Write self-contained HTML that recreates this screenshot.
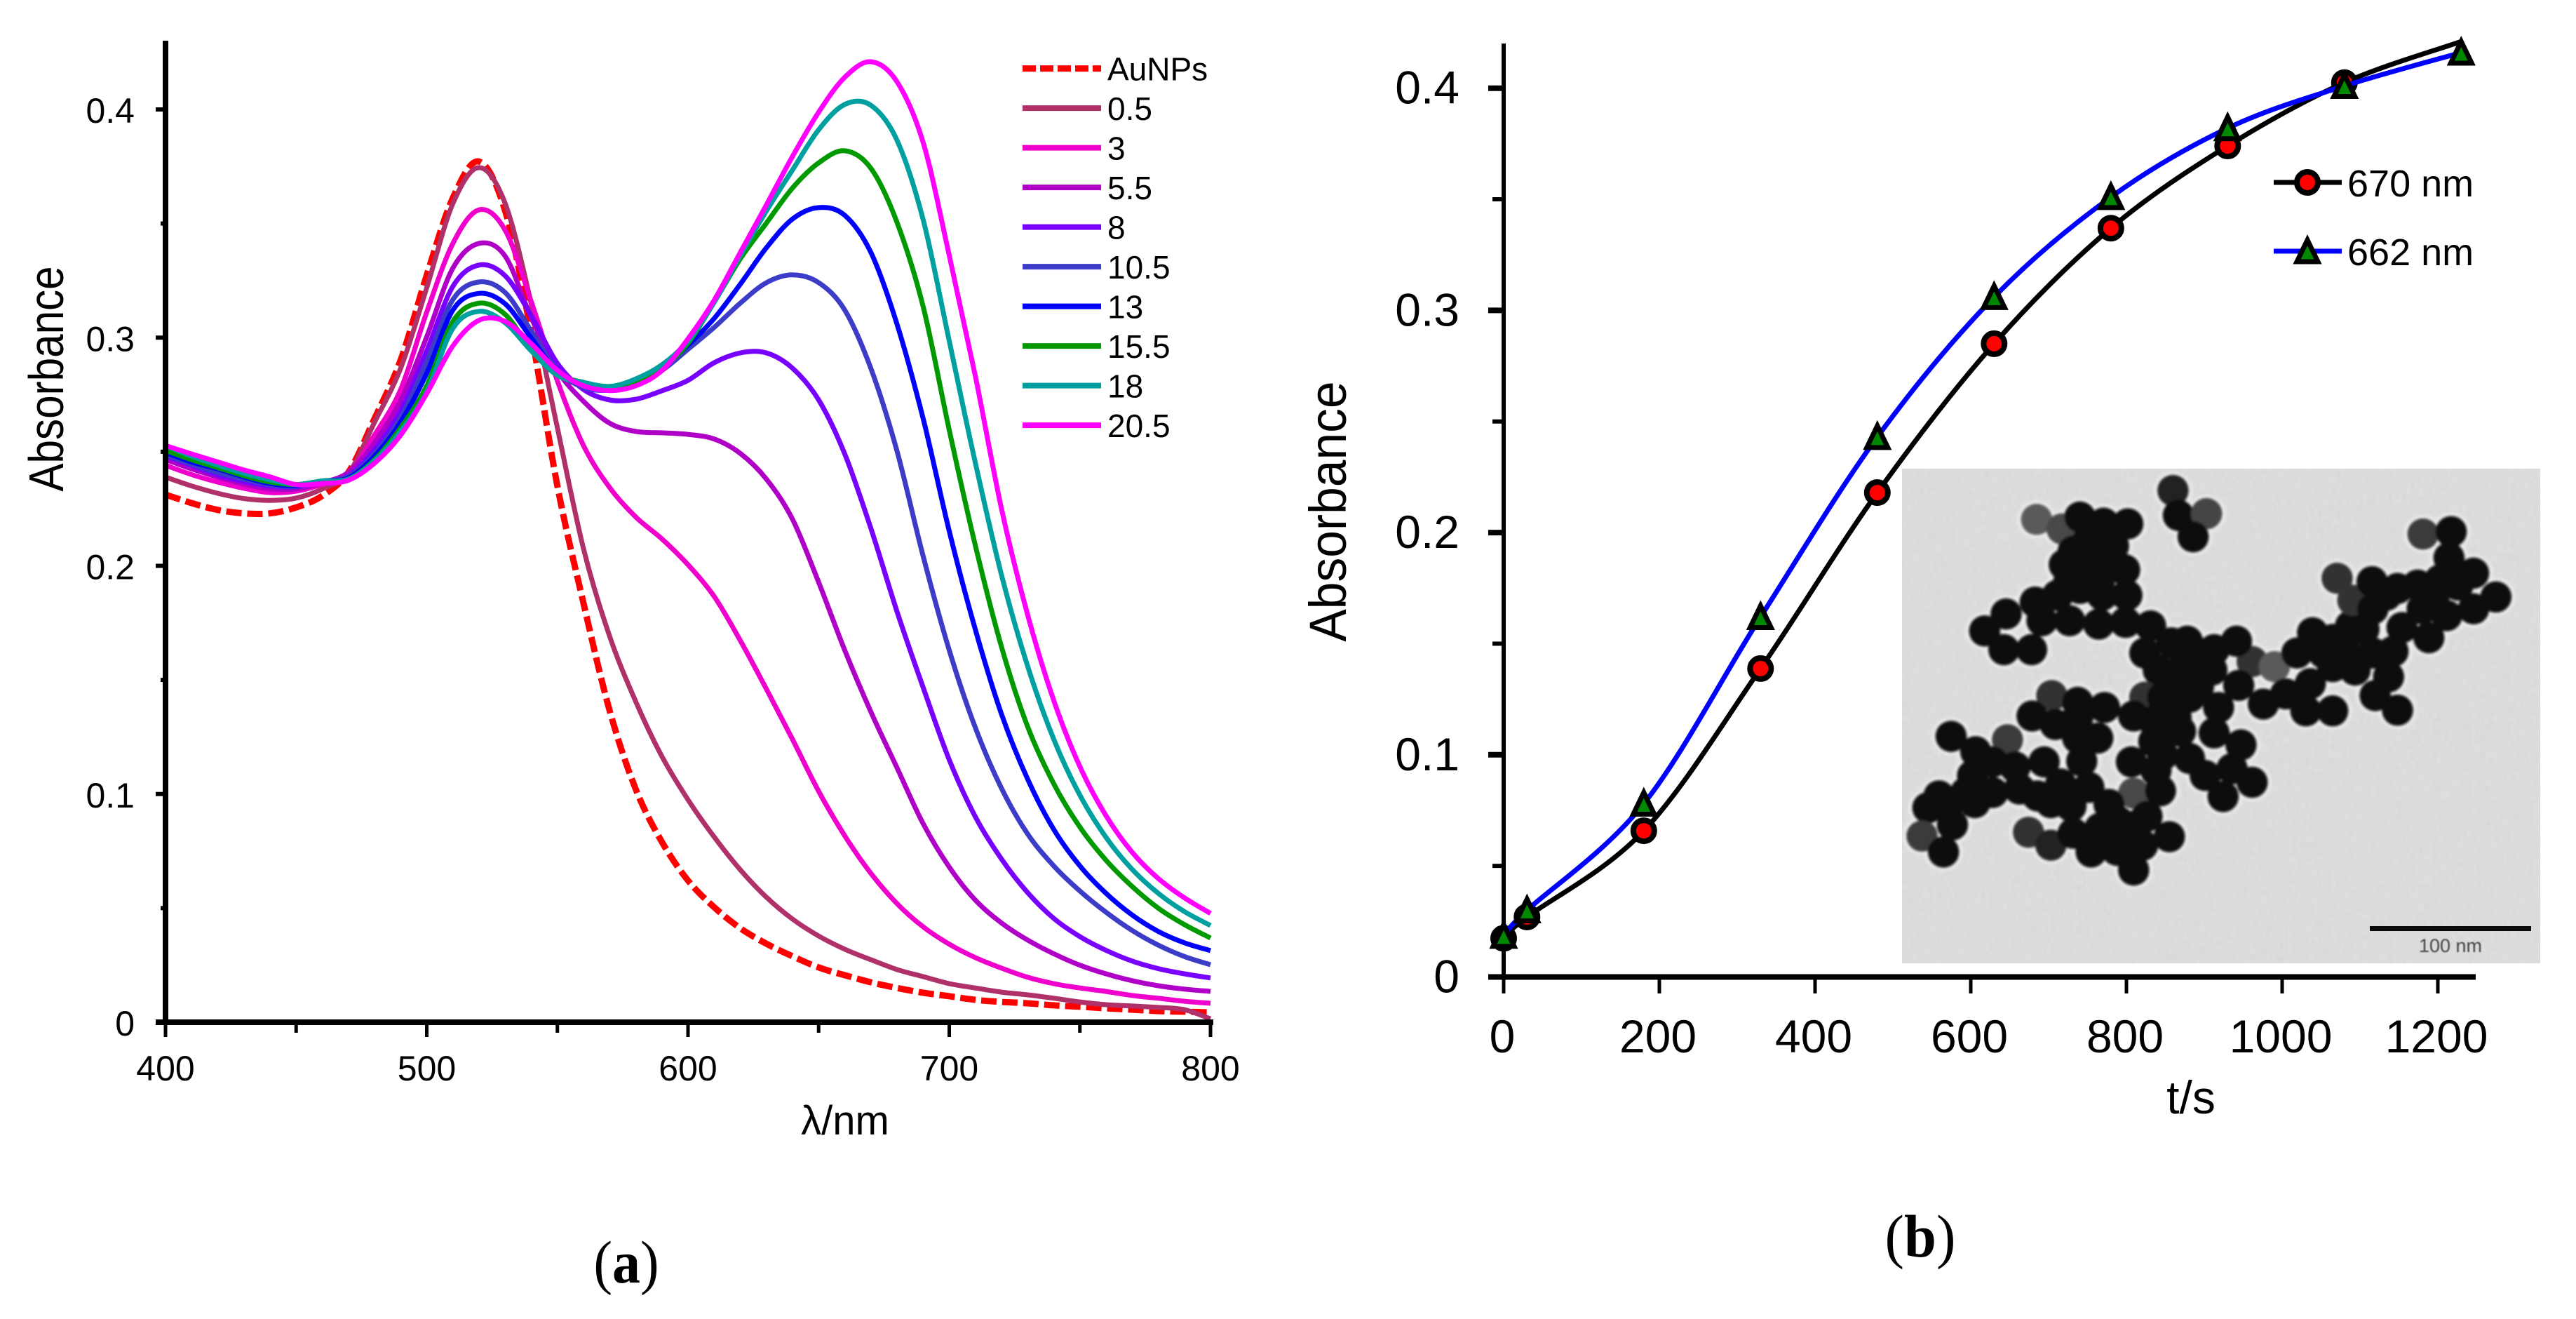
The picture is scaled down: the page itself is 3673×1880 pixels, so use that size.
<!DOCTYPE html>
<html lang="en">
<head>
<meta charset="utf-8">
<title>AuNP absorbance spectra and kinetics</title>
<style>
html,body{margin:0;padding:0;background:#fff;width:3673px;height:1880px;overflow:hidden}
svg{display:block}
text{font-family:"Liberation Sans",Arial,sans-serif;fill:#000}
.serif{font-family:"Liberation Serif","Times New Roman",serif;fill:#000}
</style>
</head>
<body>
<svg id="figure" xmlns="http://www.w3.org/2000/svg" width="3673" height="1880" viewBox="0 0 3673 1880">
  <defs>
    <filter id="tem-noise" x="0" y="0" width="100%" height="100%">
      <feTurbulence type="fractalNoise" baseFrequency="0.16 0.1" numOctaves="2" seed="7" result="n"/>
      <feColorMatrix in="n" type="matrix" values="0 0 0 0 0.5  0 0 0 0 0.5  0 0 0 0 0.5  0.2 0.2 0 0 -0.12" result="g"/>
      <feMerge><feMergeNode in="SourceGraphic"/><feMergeNode in="g"/></feMerge>
    </filter>
    <filter id="soft" x="-5%" y="-5%" width="110%" height="110%"><feGaussianBlur stdDeviation="3 4"/></filter>
    <filter id="soft-halo" x="-5%" y="-5%" width="110%" height="110%"><feGaussianBlur stdDeviation="4 5"/></filter>
    <filter id="soft-text" x="-5%" y="-20%" width="110%" height="140%"><feGaussianBlur stdDeviation="0.8"/></filter>
  </defs>

  <g id="chart-a">
    <g id="a-series"></g>
    <g id="a-axes"></g>
    <text transform="translate(90,540) rotate(-90) scale(.86,1)" font-size="70" text-anchor="middle">Absorbance</text>
    <text x="1205" y="1617" font-size="58" text-anchor="middle">λ/nm</text>
    <g id="a-legend"></g>
  </g>
  <text class="serif" transform="translate(893,1828) scale(.93,1)" font-size="86" text-anchor="middle">(<tspan font-weight="bold">a</tspan>)</text>

  <g id="chart-b">
    <g id="tem">
      <rect x="2712" y="668" width="910" height="705" fill="#dedede" filter="url(#tem-noise)"/>
      <g id="tem-particles" transform="translate(2650,640) scale(.6378,.4847)"></g>
      <rect x="3379" y="1320" width="230" height="7" fill="#0a0a0a"/>
      <text x="3494" y="1357" font-size="27" text-anchor="middle" style="fill:#444" filter="url(#soft-text)">100 nm</text>
    </g>
    <g id="b-axes"></g>
    <g id="b-series"></g>
    <text transform="translate(1919,729) rotate(-90) scale(.94,1)" font-size="74" text-anchor="middle">Absorbance</text>
    <text x="3124" y="1587" font-size="66" text-anchor="middle">t/s</text>
    <g id="b-legend"></g>
  </g>
  <text class="serif" transform="translate(2738,1791) scale(.96,1)" font-size="86" text-anchor="middle">(<tspan font-weight="bold">b</tspan>)</text>
</svg>

<script>
/* ---------- Chart (a) data ---------- */
var wavelengths = [400,410,420,430,440,450,460,470,480,490,500,510,520,530,540,550,560,570,580,590,600,610,620,630,640,650,660,670,680,690,700,710,720,730,740,750,760,770,780,790,800];
var seriesNames = ['AuNPs','0.5','3','5.5','8','10.5','13','15.5','18','20.5'];
var seriesColors = ['#ff0000','#b0306a','#f000cc','#b000c8','#7800ff','#3c3cc8','#0000ff','#009900','#00a0a0','#ff00ff'];
var absAuNPs = [.2312,.2275,.2245,.223,.223,.2256,.2307,.241,.2645,.2902,.3274,.3613,.3772,.3555,.3019,.2349,.1836,.1365,.1021,.079,.0621,.0504,.0412,.0344,.0289,.024,.0206,.0175,.015,.0129,.0114,.0098,.0089,.0083,.0074,.0068,.0061,.0055,.0049,.0046,.0043];
var abs05 = [.2389,.235,.2318,.2295,.2287,.2297,.2337,.2405,.2629,.2866,.3219,.3588,.3745,.3588,.3148,.2604,.2075,.1691,.1405,.1165,.0975,.0812,.0668,.0548,.0452,.0378,.032,.0274,.0231,.02,.0169,.015,.0132,.012,.0105,.0089,.0077,.0071,.0065,.0055,.0015];
var abs3 = [.2441,.24,.2367,.234,.2321,.2327,.2358,.2405,.2573,.2773,.3112,.3413,.356,.3471,.3158,.281,.2527,.2343,.2214,.2118,.2005,.1866,.1673,.146,.124,.1012,.0817,.0652,.052,.0418,.0342,.0283,.0237,.0197,.0169,.015,.0135,.0117,.0105,.0092,.0083];
var abs55 = [.2466,.2425,.2389,.2358,.2337,.2337,.2364,.241,.254,.2725,.3004,.3305,.3413,.3357,.3087,.2856,.2721,.2625,.2589,.2583,.2576,.2556,.2493,.238,.2204,.1928,.163,.136,.1115,.087,.068,.0535,.0435,.036,.03,.025,.0212,.0182,.016,.0145,.0135];
var abs8 = [.2481,.244,.2398,.237,.2349,.2346,.2368,.2395,.251,.268,.2942,.3225,.3318,.3271,.3096,.2887,.2773,.2727,.273,.2767,.2813,.289,.2933,.2933,.2866,.2727,.249,.2164,.18,.1467,.115,.09,.0715,.0568,.0455,.0375,.0315,.0268,.0235,.0212,.0194];
var abs105 = [.2487,.2445,.2409,.238,.2355,.2348,.237,.2392,.249,.265,.2896,.3167,.3244,.3198,.3029,.2856,.2782,.277,.2798,.2856,.2949,.3045,.3151,.3241,.3275,.3241,.3121,.2865,.2503,.2042,.163,.129,.1025,.0825,.0685,.0575,.0482,.0402,.0338,.0288,.0252];
var abs13 = [.2497,.2455,.2425,.239,.2361,.2351,.2372,.2385,.248,.263,.2844,.3121,.3194,.3148,.2998,.285,.2798,.2779,.2807,.2872,.2967,.3084,.3234,.3394,.352,.357,.3536,.3373,.3059,.2645,.2152,.172,.135,.1065,.0845,.0685,.0565,.047,.0398,.0348,.0314];
var abs155 = [.2506,.2465,.243,.2395,.2367,.2356,.2372,.238,.2465,.2605,.2789,.3071,.3151,.3102,.2949,.2841,.2804,.2786,.281,.2866,.2975,.3155,.3345,.3502,.3656,.3766,.3819,.3742,.3505,.3136,.2595,.2088,.1645,.1295,.1045,.0855,.071,.0595,.05,.0428,.0369];
var abs18 = [.2527,.248,.2441,.2405,.2377,.2356,.2372,.238,.246,.259,.2764,.3041,.3115,.3065,.2942,.2835,.2804,.2786,.2819,.2881,.2985,.3155,.336,.3555,.3735,.3911,.4022,.4018,.3865,.3517,.2985,.245,.196,.156,.124,.0995,.081,.067,.0565,.0485,.0424];
var abs205 = [.2527,.249,.2455,.242,.239,.2356,.2361,.2375,.245,.2573,.2755,.2964,.3076,.3071,.2973,.2856,.2789,.2768,.2789,.2856,.2995,.3164,.3373,.3582,.3794,.3988,.4141,.4209,.4121,.3855,.336,.283,.225,.1785,.141,.112,.0905,.0745,.063,.0545,.0477];
var seriesValues = [absAuNPs,abs05,abs3,abs55,abs8,abs105,abs13,abs155,abs18,abs205];
var aXTickLabels = [400,500,600,700,800];
var aXMinorTicks = [450,550,650,750];
var aYTickLabels = ['0','0.1','0.2','0.3','0.4'];
var aYTickValues = [0,.1,.2,.3,.4];
var aYMinorTicks = [.05,.15,.25,.35];

/* ---------- Chart (b) data ---------- */
var times = [0,30,180,330,480,630,780,930,1080,1230];
var abs670 = [.0174,.027,.0658,.1388,.218,.285,.337,.374,.4025,.421];
var abs662 = [.0185,.03,.078,.162,.243,.306,.351,.382,.401,.416];
var bXTickLabels = [0,200,400,600,800,1000,1200];
var bYTickLabels = ['0','0.1','0.2','0.3','0.4'];
var bYTickValues = [0,.1,.2,.3,.4];
var bYMinorTicks = [.05,.15,.25,.35];

/* ---------- Inset micrograph particles (decorative image, not chart data) ---------- */
var temParticles = [
[398,207,'#5a5a5a'],[455,235,'#4a4a4a'],[495,200],[548,218],[602,220],[510,275],[570,285],[460,340],[510,335],[555,340],[595,355],[480,300],[540,380],[470,390],
[395,450],[445,430],[495,410],[545,430],[600,430],[330,485],[282,535],[325,590],[387,590],[410,505],[472,505],[537,515],[597,510],[653,520],
[703,122,'#222'],[715,195],[778,190,'#444'],[748,258],
[880,625,'#333'],[930,640,'#5a5a5a'],[640,600],[700,570],[735,565],[670,650],[725,640],[795,590],[845,565],[790,650],[850,695],[760,600],[760,700],[700,690],
[905,750],[955,720],[1000,770],[1060,770],[1010,690],[980,600],[1015,540],[1060,560],[1060,640],[1110,650],[1150,600],[1195,595],[1185,670],[1155,725],[1205,768],[1090,600],[1040,600],[1100,520],
[1070,380,'#333'],[1105,445,'#333'],[1262,250,'#3a3a3a'],[1148,390],[1150,470],[1130,530],[1205,410],[1250,400],[1300,385],[1320,320],[1325,243],[1375,365],[1425,435],[1375,470],[1315,490],[1275,555],[1215,525],[1260,470],[1180,430],[1290,420],[1340,400],
[432,725,'#333'],[640,730,'#333'],[680,730],[740,730],[805,760],[615,785],[550,760],[490,745],[490,790],[388,785],[440,810],[490,850],[535,850],[660,860],[720,830],[795,835],[855,870],[740,910],[610,920],[665,945],[775,960],[835,940],[880,980],[815,1022],[615,1012,'#4a4a4a'],[675,1005],[499,918],[710,790],[660,800],[680,900],
[333,855,'#3a3a3a'],[207,845],[262,890],[300,920],[255,960],[350,935],[415,920],[300,1010],[360,1000],[452,985],[515,995],[430,1040],[475,1050],[260,1040],[200,1045],[155,1055],[210,1105],[142,1138,'#3a3a3a'],[190,1185],[380,1127,'#333'],[430,1165,'#222'],[480,1130],[560,1045],[580,1095],[645,1080],[540,1115],[610,1110],[695,1140],[520,1185],[578,1180],[635,1165],[615,1238],[240,1010],[180,1020],[400,1020]
];

/* ---------- Scales ---------- */
function xA(l){return 236+(l-400)*(1726-236)/400;}
function yA(v){return 1457-v*3252.5;}
function xB(t){return 2144+t*(3476-2144)/1200;}
function yB(v){return 1392.5-v*3167;}

var NS='http://www.w3.org/2000/svg';
function make(tag,parent){var e=document.createElementNS(NS,tag);parent.appendChild(e);return e;}
function spline(px,py){
  var d='M'+px[0].toFixed(1)+' '+py[0].toFixed(1);
  for(var i=0;i<px.length-1;i++){
    var i0=Math.max(i-1,0),i3=Math.min(i+2,px.length-1);
    var c1x=px[i]+(px[i+1]-px[i0])/6,c1y=py[i]+(py[i+1]-py[i0])/6;
    var c2x=px[i+1]-(px[i3]-px[i])/6,c2y=py[i+1]-(py[i3]-py[i])/6;
    d+='C'+c1x.toFixed(1)+' '+c1y.toFixed(1)+' '+c2x.toFixed(1)+' '+c2y.toFixed(1)+' '+px[i+1].toFixed(1)+' '+py[i+1].toFixed(1);
  }
  return d;
}
function line(parent,x1,y1,x2,y2,w){
  var l=make('line',parent);
  l.setAttribute('x1',x1);l.setAttribute('y1',y1);l.setAttribute('x2',x2);l.setAttribute('y2',y2);
  l.setAttribute('stroke','#000');l.setAttribute('stroke-width',w);
  return l;
}
function label(parent,str,x,y,size,anchor){
  var t=make('text',parent);
  t.setAttribute('x',x);t.setAttribute('y',y);t.setAttribute('font-size',size);t.setAttribute('text-anchor',anchor);
  t.textContent=str;
  return t;
}

/* ---------- Chart (a) marks ---------- */
var aSeries=document.getElementById('a-series');
seriesValues.forEach(function(vals,i){
  var p=make('path',aSeries);
  
  
  p.setAttribute('d',spline(wavelengths.map(xA),vals.map(yA)));
  p.setAttribute('fill','none');
  p.setAttribute('stroke',seriesColors[i]);
  p.setAttribute('stroke-width',i===0?9:7);
  p.setAttribute('stroke-linejoin','round');
  if(i===0){p.setAttribute('stroke-dasharray','22 8');}
});

var aAxes=document.getElementById('a-axes');
var a1=line(aAxes,236,58,236,1461,8);


var a2=line(aAxes,222,1457,1730,1457,8);


aXTickLabels.forEach(function(v){
  var t=line(aAxes,xA(v),1457,xA(v),1478,5);
  
  
  var s=label(aAxes,String(v),xA(v),1540,50,'middle');
  
  
});
aXMinorTicks.forEach(function(v){
  var t=line(aAxes,xA(v),1457,xA(v),1472,5);
  
  
});
aYTickValues.forEach(function(v,i){
  var t=line(aAxes,222,yA(v),236,yA(v),6);
  
  
  var s=label(aAxes,aYTickLabels[i],192,yA(v)+19,50,'end');
  
  
});
aYMinorTicks.forEach(function(v){
  var t=line(aAxes,229,yA(v),236,yA(v),6);
  
  
});

var aLegend=document.getElementById('a-legend');
seriesNames.forEach(function(n,i){
  var rowY=97.6+i*56.5;
  var l=make('line',aLegend);
  
  
  l.setAttribute('x1',1458);l.setAttribute('x2',1570);l.setAttribute('y1',rowY);l.setAttribute('y2',rowY);
  l.setAttribute('stroke',seriesColors[i]);
  l.setAttribute('stroke-width',i===0?9:8);
  if(i===0){l.setAttribute('stroke-dasharray','19 6');}
  var s=label(aLegend,n,1579,rowY+17,46,'start');
  
  
});

/* ---------- Inset particles ---------- */
var tp=document.getElementById('tem-particles');
var halos=make('g',tp);


halos.setAttribute('filter','url(#soft-halo)');
var cores=make('g',tp);


cores.setAttribute('filter','url(#soft)');
temParticles.forEach(function(q){
  var h=make('ellipse',halos);
  
  
  h.setAttribute('cx',q[0]);h.setAttribute('cy',q[1]);h.setAttribute('rx',42);h.setAttribute('ry',54);
  h.setAttribute('fill','#f0f0f0');
});
temParticles.forEach(function(q){
  var c=make('ellipse',cores);
  
  
  c.setAttribute('cx',q[0]);c.setAttribute('cy',q[1]);c.setAttribute('rx',35);c.setAttribute('ry',46);
  c.setAttribute('fill',q[2]||'#0d0d0d');
});

/* ---------- Chart (b) marks ---------- */
var bAxes=document.getElementById('b-axes');
var b1=line(bAxes,2144,62,2144,1396,6);


var b2=line(bAxes,2122,1392.5,3530,1392.5,8);


bXTickLabels.forEach(function(v){
  var t=line(bAxes,xB(v),1392.5,xB(v),1416,5);
  
  
  var s=label(bAxes,String(v),xB(v)-2,1500,66,'middle');
  
  
});
bYTickValues.forEach(function(v,i){
  var t=line(bAxes,2122,yB(v),2144,yB(v),8);
  
  
  var s=label(bAxes,bYTickLabels[i],2081,yB(v)+22,66,'end');
  
  
});
bYMinorTicks.forEach(function(v){
  var t=line(bAxes,2128,yB(v),2144,yB(v),6);
  
  
});

function circleMark(parent,x,y){
  var c=make('circle',parent);
  c.setAttribute('cx',x);c.setAttribute('cy',y);c.setAttribute('r',15);
  c.setAttribute('fill','#ff0000');c.setAttribute('stroke','#000');c.setAttribute('stroke-width',8);
  return c;
}
function triMark(parent,x,y){
  var t=make('polygon',parent);
  t.setAttribute('points',(x)+','+(y-16)+' '+(x+15)+','+(y+15)+' '+(x-15)+','+(y+15));
  t.setAttribute('fill','#008800');t.setAttribute('stroke','#000');t.setAttribute('stroke-width',7);
  t.setAttribute('stroke-miterlimit',6);
  return t;
}

var bSeries=document.getElementById('b-series');
var p670=make('path',bSeries);


p670.setAttribute('d',spline(times.map(xB),abs670.map(yB)));
p670.setAttribute('fill','none');p670.setAttribute('stroke','#000');p670.setAttribute('stroke-width',7);
abs670.forEach(function(v,i){
  if(i===abs670.length-1){return;}
  var m=circleMark(bSeries,xB(times[i]),yB(v));
  
  
});
var p662=make('path',bSeries);


p662.setAttribute('d',spline(times.map(xB),abs662.map(yB)));
p662.setAttribute('fill','none');p662.setAttribute('stroke','#0000ff');p662.setAttribute('stroke-width',7);
abs662.forEach(function(v,i){
  var m=triMark(bSeries,xB(times[i]),yB(v));
  
  
});

var bLegend=document.getElementById('b-legend');
var ll1=make('line',bLegend);


ll1.setAttribute('x1',3242);ll1.setAttribute('x2',3339);ll1.setAttribute('y1',260);ll1.setAttribute('y2',260);
ll1.setAttribute('stroke','#000');ll1.setAttribute('stroke-width',7);
var lm1=circleMark(bLegend,3290,260);


var lt1=label(bLegend,'670 nm',3347,280,54,'start');


var ll2=make('line',bLegend);


ll2.setAttribute('x1',3242);ll2.setAttribute('x2',3339);ll2.setAttribute('y1',358);ll2.setAttribute('y2',358);
ll2.setAttribute('stroke','#0000ff');ll2.setAttribute('stroke-width',7);
var lm2=triMark(bLegend,3290,358);


var lt2=label(bLegend,'662 nm',3347,378,54,'start');


</script>
</body>
</html>
